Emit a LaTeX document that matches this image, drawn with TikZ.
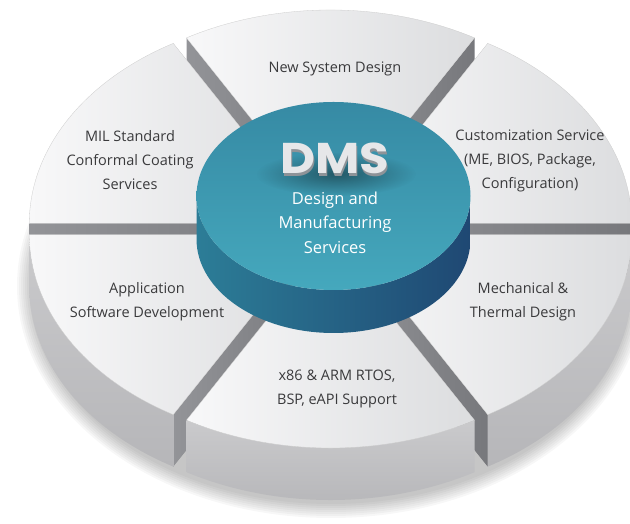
\documentclass[tikz,border=0pt]{standalone}
\usepackage{fontspec}
\setmainfont{Open Sans}
\newfontfamily\dmsfont{Poppins}
\usetikzlibrary{fadings}

\definecolor{segtopl}{HTML}{F8F8F9}
\definecolor{segtopr}{HTML}{DCDDDF}
\definecolor{segwall}{HTML}{CACACC}
\definecolor{segwalld}{HTML}{B6B6B9}
\definecolor{segcut}{HTML}{939498}
\definecolor{segcutd}{HTML}{77787C}
\definecolor{labeltext}{HTML}{3A3A3C}
\definecolor{cyltop}{HTML}{368AA4}
\definecolor{cyltopb}{HTML}{45A8BD}
\definecolor{cylside}{HTML}{2C7D97}
\definecolor{cylsidem}{HTML}{2F8AA2}
\definecolor{cylsided}{HTML}{1F4873}
\definecolor{dmsface}{HTML}{E6E7E9}
\definecolor{dmsside}{HTML}{8E9398}

\tikzfading[name=dmsglow, inner color=transparent!0, outer color=transparent!100]

% one exploded slice of the disc, from angle #1 to angle #2
\newcommand{\discslice}[2]{%
  \pgfmathsetmacro{\slicemid}{(#1+#2)/2}%
  \pgfmathtruncatemacro{\showstart}{cos(#1)>0.01}%
  \pgfmathtruncatemacro{\showend}{cos(#2)<-0.01}%
  \pgfmathtruncatemacro{\showwall}{#1>=180}%
  \begin{scope}[shift={(\slicemid:0.053)}]
    \ifnum\showstart=1
      \path[cutface] (0,0) -- (#1:1) -- ++(0,-0.25) -- (0,-0.25) -- cycle;
    \fi
    \ifnum\showend=1
      \path[cutface] (0,0) -- (#2:1) -- ++(0,-0.25) -- (0,-0.25) -- cycle;
    \fi
    \ifnum\showwall=1
      \path[wallface] (#1:1) arc[start angle=#1, end angle=#2, radius=1]
        -- ++(0,-0.25) arc[start angle=#2, end angle=#1, radius=1] -- cycle;
    \fi
    \path[topface] (0,0) -- (#1:1) arc[start angle=#1, end angle=#2, radius=1] -- cycle;
  \end{scope}}

\begin{document}
\begin{tikzpicture}[x=1pt, y=1pt,
  topface/.style={left color=segtopl, right color=segtopr, draw=black!20, line width=0.3pt},
  wallface/.style={top color=segwall, bottom color=segwalld},
  cutface/.style={left color=segcut, right color=segcutd},
  slicetext/.style={text=labeltext, align=center, font=\fontsize{14.5}{24}\selectfont},
  coretext/.style={text=white, align=center, font=\fontsize{16.5}{24.5}\selectfont},
  dmstext/.style={font=\dmsfont\bfseries\fontsize{43}{43}\selectfont, xscale=1.12, transform shape}]
\useasboundingbox (0,0) rectangle (630,524);
\clip (0,0) rectangle (630,524);

% soft shadow under the disc
\foreach \g in {0,2,...,14}
  \fill[black, opacity=0.03] (331,238) ellipse [x radius=300+\g, y radius=218+\g];

% the six slices, back to front
\begin{scope}[shift={(330.5,295)}, x=288pt, y=208pt]
  \discslice{60}{120}
  \discslice{0}{60}
  \discslice{120}{180}
  \discslice{300}{360}
  \discslice{180}{240}
  \discslice{240}{300}
\end{scope}

% centre cylinder
\path[left color=cylside, middle color=cylsidem, right color=cylsided]
  (196.5,328) -- (196.5,285) arc[start angle=180, end angle=360, x radius=137, y radius=94]
  -- (470.5,328) arc[start angle=0, end angle=-180, x radius=137, y radius=94] -- cycle;
\path[top color=cyltop, bottom color=cyltopb] (333.5,328) ellipse [x radius=137, y radius=94];
\fill[black, opacity=0.4, path fading=dmsglow] (336,350) ellipse [x radius=80, y radius=22];

% DMS title with a small extrusion
\node[dmstext, text=dmsside] at (335.5,363) {DMS};
\node[dmstext, text=dmsface] (dms) at (334.5,366) {DMS};
\node[coretext] (dmsdesc) at (335,301.5) {Design and\\Manufacturing\\Services};

% slice labels
\node[slicetext] (newsys) at (335,455) {New System Design};
\node[slicetext] (custom) at (530,363) {Customization Service\\(ME, BIOS, Package,\\Configuration)};
\node[slicetext] (mil) at (130,363.5) {MIL Standard\\Conformal Coating\\Services};
\node[slicetext] (mech) at (523,222.5) {Mechanical \&\\Thermal Design};
\node[slicetext] (appsw) at (147,222.5) {Application\\Software Development};
\node[slicetext] (rtos) at (337,135.5) {x86 \& ARM RTOS,\\BSP, eAPI Support};
\end{tikzpicture}
\end{document}
